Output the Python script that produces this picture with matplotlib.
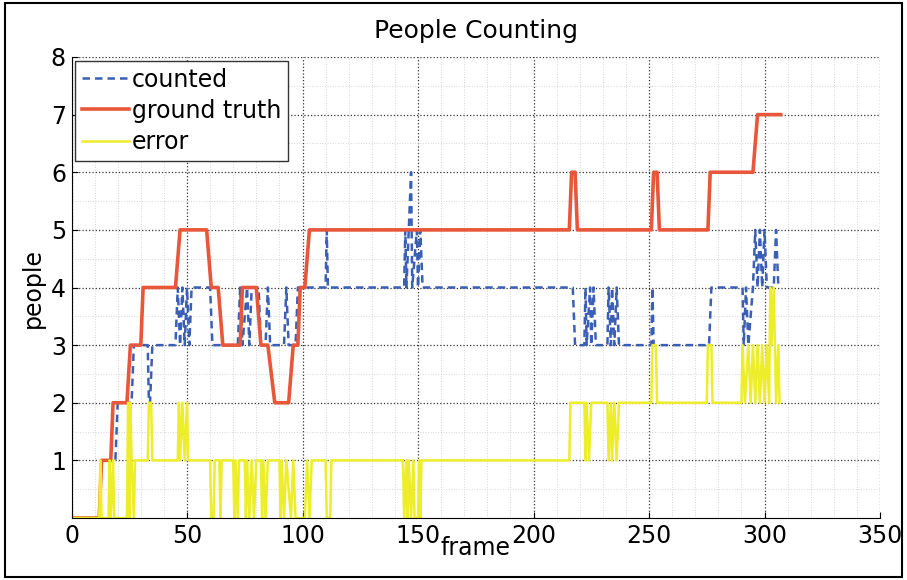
import matplotlib
matplotlib.use("Agg")
import matplotlib.pyplot as plt
from matplotlib.patches import Rectangle
from matplotlib.ticker import MultipleLocator

# ground truth: step vertices (frame, people)
gt_frames = [0, 12, 13, 17, 18, 24, 25.5, 30, 31, 45, 47, 58.5, 60.5, 63.5, 65.5, 73, 74,
             80, 82, 85, 88, 94, 96, 98, 99, 101, 103, 215.5, 216.5, 218, 219, 251,
             252, 253.5, 254.5, 275.5, 276.5, 295, 297, 307]
gt_values = [0, 0, 1, 1, 2, 2, 3, 3, 4, 4, 5, 5, 4, 4, 3, 3, 4,
             4, 3, 3, 2, 2, 3, 3, 4, 4, 5, 5, 6, 6, 5, 5,
             6, 6, 5, 5, 6, 6, 7, 7]

# counted by the algorithm
cnt_frames = [0, 12, 13, 19, 20, 26, 27, 33, 33.5, 34, 35, 45, 46, 47, 48, 49, 50, 51, 52,
              60, 61, 72, 73, 74, 76, 77, 78, 81, 82, 84, 85, 86, 92, 93, 94, 97, 98,
              110, 110.5, 111, 112, 144, 144.5, 145, 147, 147.5, 149.5, 150, 151, 152,
              217, 218, 222, 222.5, 223, 224.5, 225, 226, 227, 232, 232.5, 233.5, 234,
              235, 236, 237, 238, 251, 251.5, 252, 276, 277, 290.5, 291, 292, 293,
              295, 296, 297, 298, 299, 300, 301, 304, 305, 306]
cnt_values = [0, 0, 1, 1, 2, 2, 3, 3, 2, 2, 3, 3, 4, 3, 4, 3, 4, 3, 4,
              4, 3, 3, 4, 3, 4, 3, 4, 4, 3, 3, 4, 3, 3, 4, 3, 3, 4,
              4, 5, 4, 4, 4, 5, 4, 6, 4, 5, 4, 5, 4,
              4, 3, 3, 4, 3, 4, 3, 4, 3, 3, 4, 3, 4,
              3, 4, 3, 3, 3, 4, 3, 3, 4, 4, 3, 4, 3,
              4, 5, 4, 5, 4, 5, 4, 4, 5, 4]

# error between the two
err_frames = [0, 12, 12.5, 13, 16, 16.5, 17, 18, 18.5, 24, 24.5, 25, 25.5, 26, 27, 27.5,
              33, 33.5, 34.5, 35, 46, 46.5, 47, 48, 49, 50, 50.5, 60, 60.5, 61.5, 62,
              64, 64.5, 65, 70, 70.5, 71, 72, 72.5, 75, 75.5, 76, 77, 78, 79, 80, 82,
              82.5, 83, 84, 85, 90, 90.5, 91, 92, 93, 95, 96, 97, 101, 102, 103, 104,
              110, 110.5, 112, 112.5, 143.5, 144, 145, 145.5, 146, 147, 148, 148.5,
              150, 150.5, 151, 151.5, 215.5, 216, 222, 222.5, 223, 224, 225, 232,
              232.5, 233.5, 234, 235, 236, 237, 251, 251.5, 253, 253.5, 275, 275.5,
              277, 277.5, 290, 290.5, 291.5, 293, 294, 295, 296, 297, 298, 299, 300,
              301, 302, 302.5, 303, 304, 305, 306, 306.5]
err_values = [0, 0, 1, 0, 0, 1, 0, 1, 0, 0, 2, 0, 2, 1, 0, 1,
              1, 2, 2, 1, 1, 2, 1, 2, 1, 2, 1, 1, 0, 0, 1,
              1, 0, 1, 1, 0, 1, 0, 1, 1, 0, 1, 0, 1, 0, 1, 1,
              0, 1, 0, 1, 1, 0, 1, 0, 1, 0, 1, 0, 0, 1, 0, 1,
              1, 0, 0, 1, 1, 0, 1, 0, 1, 0, 1, 0,
              0, 1, 0, 1, 1, 2, 2, 1, 2, 1, 2, 2,
              1, 2, 1, 2, 1, 2, 2, 3, 3, 2, 2, 3,
              3, 2, 2, 3, 2, 3, 2, 3, 2, 3, 2, 3, 2,
              3, 2, 4, 3, 4, 2, 3, 2]

fig = plt.figure(figsize=(9.07, 5.8), dpi=100)
ax = fig.add_axes([71.5 / 907, 62 / 580, 808.5 / 907, 461 / 580])

ax.plot(cnt_frames, cnt_values, '--', color='#3b5fb5', lw=1.8, dashes=(3, 2), label='counted')
ax.plot(gt_frames, gt_values, '-', color='#e8573a', lw=2.6, label='ground truth')
ax.plot(err_frames, err_values, '-', color='#eded2a', lw=1.8, label='error')

ax.set_xlim(0, 350)
ax.set_ylim(0, 8)
ax.xaxis.set_major_locator(MultipleLocator(50))
ax.xaxis.set_minor_locator(MultipleLocator(10))
ax.yaxis.set_major_locator(MultipleLocator(1))
ax.yaxis.set_minor_locator(MultipleLocator(0.5))
ax.set_yticks(range(1, 9))
ax.set_yticklabels([str(v) for v in range(1, 9)])

ax.grid(which='major', color='#333333', linestyle=':', lw=0.9)
ax.grid(which='minor', color='#d4d4d4', linestyle=':', lw=0.7)
ax.set_axisbelow(True)
ax.spines['top'].set_visible(False)
ax.spines['right'].set_visible(False)
ax.tick_params(which='both', direction='in', labelsize=17, length=4, pad=4)
ax.tick_params(which='minor', length=0)

ax.set_title('People Counting', fontsize=18, pad=14)
ax.set_xlabel('frame', fontsize=17, labelpad=-8)
ax.set_ylabel('people', fontsize=17, labelpad=4)

leg = ax.legend(loc='upper left', fontsize=17, handlelength=2.0, handletextpad=0.1,
                borderpad=0.3, labelspacing=0.3, fancybox=False, framealpha=1,
                edgecolor='#333333', borderaxespad=0.15)
leg.get_frame().set_linewidth(1.0)

fig.patches.append(Rectangle((5 / 907, 3 / 580), 897 / 907, 574 / 580, transform=fig.transFigure,
                             fill=False, edgecolor='black', lw=1.5))

fig.savefig('out.png', dpi=100)
